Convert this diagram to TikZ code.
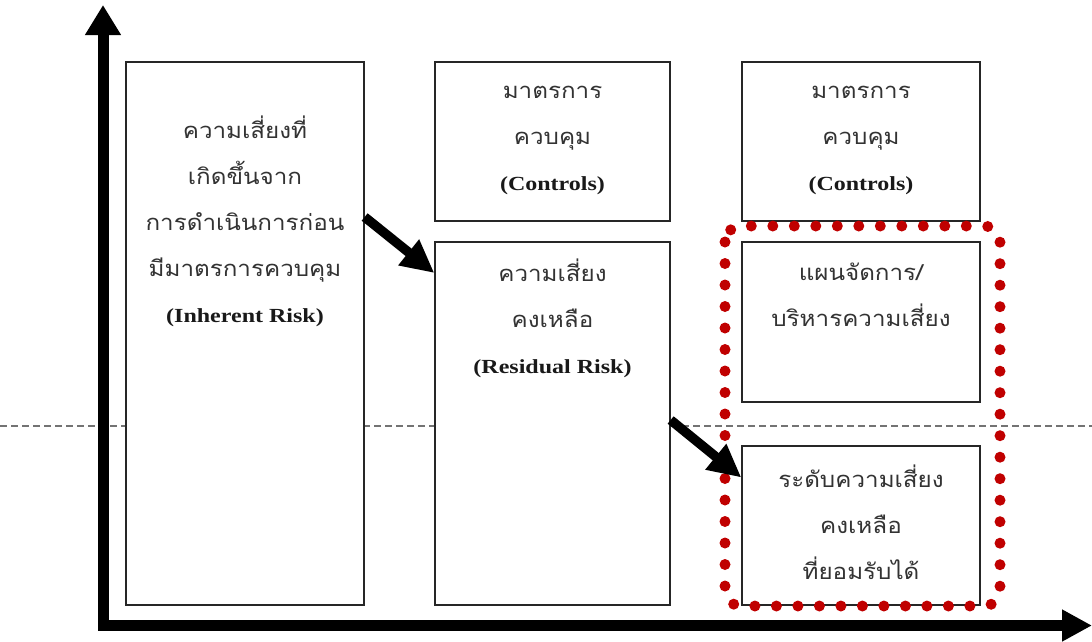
\documentclass[tikz,border=0pt]{standalone}
\usepackage{fontspec}
\setmainfont{Liberation Serif}[FakeStretch=1.2]
\newfontfamily\engfont{Liberation Serif}[FakeStretch=1.2]
\newfontfamily\thai[Script=Thai,FakeStretch=1.1]{Loma}
\usetikzlibrary{arrows.meta}
\definecolor{dotred}{HTML}{C00000}
\tikzset{
  box/.style={draw=black!85, line width=1.3pt, inner sep=0pt, fill=white},
  txt/.style={align=center, inner sep=0pt, font=\thai\fontsize{22}{46}\selectfont, text=black!80},
  bigarrow/.style={line width=9.5pt, -{Triangle[length=33pt,width=31pt]}},
  axis/.style={line width=11pt, line join=miter, {Triangle[length=30pt,width=34pt]}-{Triangle[length=30pt,width=30pt]}},
  reddots/.style={draw=dotred, line width=11pt, line cap=round, dash pattern=on 0pt off 21.5pt, rounded corners=16pt},
  guide/.style={draw=black!55, line width=1.2pt, dash pattern=on 7pt off 4pt}
}
\newcommand{\eng}[1]{{\engfont\bfseries\fontsize{20}{46}\selectfont\color{black!90}#1}}
\begin{document}
\begin{tikzpicture}[x=1pt,y=-1pt]
\useasboundingbox (0,0) rectangle (1092,641);
% dashed guide
\coordinate (gl) at (0,426);
\coordinate (gr) at (1092,426);
\draw[guide] (gl) -- (gr);
% boxes
\node[box, minimum width=238pt, minimum height=543pt] (b1) at (245,333.5) {};
\node[box, minimum width=235pt, minimum height=159pt] (b2) at (552.5,141.5) {};
\node[box, minimum width=235pt, minimum height=363pt] (b3) at (552.5,423.5) {};
\node[box, minimum width=238pt, minimum height=159pt] (b4) at (861,141.5) {};
\node[box, minimum width=238pt, minimum height=160pt] (b5) at (861,322) {};
\node[box, minimum width=238pt, minimum height=159pt] (b6) at (861,525.5) {};
% texts
\node[txt] (t1) at (245,221) {ความเสี่ยงที่\\เกิดขึ้นจาก\\การดำเนินการก่อน\\มีมาตรการควบคุม\\\eng{(Inherent Risk)}};
\node[txt] (t2) at (552.5,140) {มาตรการ\\ควบคุม\\\eng{(Controls)}};
\node[txt] (t3) at (552.5,318) {ความเสี่ยง\\คงเหลือ\\\eng{(Residual Risk)}};
\node[txt] (t4) at (861,140) {มาตรการ\\ควบคุม\\\eng{(Controls)}};
\node[txt] (t5) at (861,295) {แผนจัดการ/\\บริหารความเสี่ยง};
\node[txt] (t6) at (861,522) {ระดับความเสี่ยง\\คงเหลือ\\ที่ยอมรับได้};
% red dotted frame
\coordinate (r1) at (725,226);
\coordinate (r2) at (1000,606);
\draw[reddots] (r1) rectangle (r2);
% arrows
\draw[bigarrow] ([yshift=116.5pt]b1.east) -- ([yshift=150.5pt]b3.west);
\draw[bigarrow] ([yshift=3.5pt]b3.east) -- ([yshift=48pt]b6.west);
% axes
\coordinate (O) at (103,625.5);
\coordinate (ytip) at (103,5);
\coordinate (xtip) at (1092,625.5);
\draw[axis] (ytip) |- (xtip);
\end{tikzpicture}
\end{document}
